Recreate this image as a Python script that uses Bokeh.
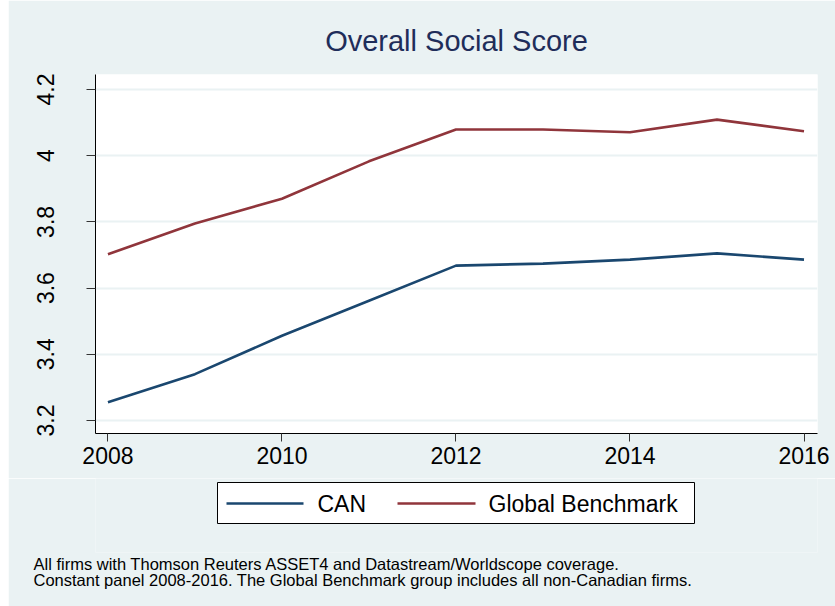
from bokeh.plotting import figure
from bokeh.models import FixedTicker, Range1d, Title, Spacer
from bokeh.layouts import column, row
from bokeh.core.properties import value
from bokeh.embed import file_html
from bokeh.resources import INLINE

years = [2008, 2009, 2010, 2011, 2012, 2013, 2014, 2015, 2016]
can = [3.255, 3.340, 3.456, 3.562, 3.668, 3.674, 3.686, 3.705, 3.686]
global_bm = [3.702, 3.795, 3.870, 3.983, 4.079, 4.079, 4.071, 4.109, 4.074]

x_ticks = [2008, 2010, 2012, 2014, 2016]
y_ticks = [3.2, 3.4, 3.6, 3.8, 4.0, 4.2]
y_tick_labels = ["3.2", "3.4", "3.6", "3.8", "4", "4.2"]

title_text = "Overall Social Score"
series_names = ["CAN", "Global Benchmark"]
note_1 = "All firms with Thomson Reuters ASSET4 and Datastream/Worldscope coverage."
note_2 = "Constant panel 2008-2016. The Global Benchmark group includes all non-Canadian firms."

FONT = "Liberation Sans, Arial, Helvetica, sans-serif"
BG = "#eaf2f3"
BLUE = "#1a476f"
RED = "#90353b"
PAD = 8                        # white strip at the page's left edge
LEFT, RIGHT = 95, 817          # page x of the plot frame
TOP, BOTTOM = 74, 433          # page y of the plot frame
MAIN_END = 478                 # page y where the main figure ends
STRIP_END = 552                # page y where the legend strip frame ends
PAGE_W, PAGE_H = 835, 606

# ---- main plot ----
p = figure(frame_width=RIGHT - LEFT, frame_height=BOTTOM - TOP,
           min_border_left=LEFT - PAD, min_border_top=TOP, min_border_right=PAGE_W - RIGHT,
           min_border_bottom=MAIN_END - BOTTOM,
           output_backend="svg", toolbar_location=None,
           x_range=Range1d(2007.857, 2016.155), y_range=Range1d(3.1607, 4.2453),
           title=None)
p.border_fill_color = BG
p.background_fill_color = "white"
p.outline_line_color = None

p.line(years, can, line_color=BLUE, line_width=2.6)
p.line(years, global_bm, line_color=RED, line_width=2.6)

p.xaxis.ticker = FixedTicker(ticks=x_ticks)
p.yaxis.ticker = FixedTicker(ticks=y_ticks)
p.yaxis.major_label_overrides = dict(zip(y_ticks, y_tick_labels))
for ax in (p.xaxis[0], p.yaxis[0]):
    ax.axis_line_color = "black"
    ax.axis_line_width = 1
    ax.major_tick_line_color = "#333333"
    ax.major_tick_in = 0
    ax.minor_tick_line_color = None
    ax.major_label_text_font = FONT
    ax.major_label_text_font_size = "23px"
    ax.major_label_text_color = "black"
p.xaxis.major_tick_out = 8
p.xaxis.major_label_standoff = 5
p.yaxis.major_tick_out = 9
p.yaxis.major_label_standoff = 32
p.yaxis.major_label_orientation = "vertical"

p.xgrid.visible = False
p.ygrid.ticker = FixedTicker(ticks=y_ticks)
p.ygrid.grid_line_color = BG
p.ygrid.grid_line_width = 2

title = Title(text=title_text, align="center", text_font=FONT, text_font_size="29px",
              text_font_style="normal", text_color="#1f2d5a", standoff=36)
p.add_layout(title, "above")

# ---- legend strip (data coordinates = page pixels) ----
bot = figure(frame_width=RIGHT - LEFT, frame_height=STRIP_END - MAIN_END,
             min_border_left=LEFT - PAD, min_border_right=PAGE_W - RIGHT, min_border_top=0,
             min_border_bottom=PAGE_H - STRIP_END,
             x_range=Range1d(LEFT, RIGHT), y_range=Range1d(STRIP_END, MAIN_END),
             output_backend="svg", toolbar_location=None,
             x_axis_type=None, y_axis_type=None, title=None)
bot.border_fill_color = BG
bot.background_fill_color = BG
bot.outline_line_color = None
bot.grid.visible = False

bot.quad(left=[217], right=[694], top=[482], bottom=[523],
         fill_color="white", line_color="black", line_width=1)
bot.segment(x0=[226, 397], y0=[503, 503], x1=[303, 475], y1=[503, 503],
            line_color=[BLUE, RED], line_width=2.6)
bot.text(x=[317, 488], y=[503, 503], text=series_names, text_font=value(FONT),
         text_font_size="23px", text_color="black", text_align="left",
         text_baseline="middle")

for note, so in ((note_1, 0), (note_2, -8)):
    bot.add_layout(Title(text=note, align="left", offset=33 - LEFT, standoff=so,
                         text_font=FONT, text_font_size="16.5px",
                         text_font_style="normal", text_color="black"), "below")

layout = row(Spacer(width=PAD, height=PAGE_H), column(p, bot, spacing=0), spacing=0)
open("out.html", "w").write(file_html(layout, INLINE))
